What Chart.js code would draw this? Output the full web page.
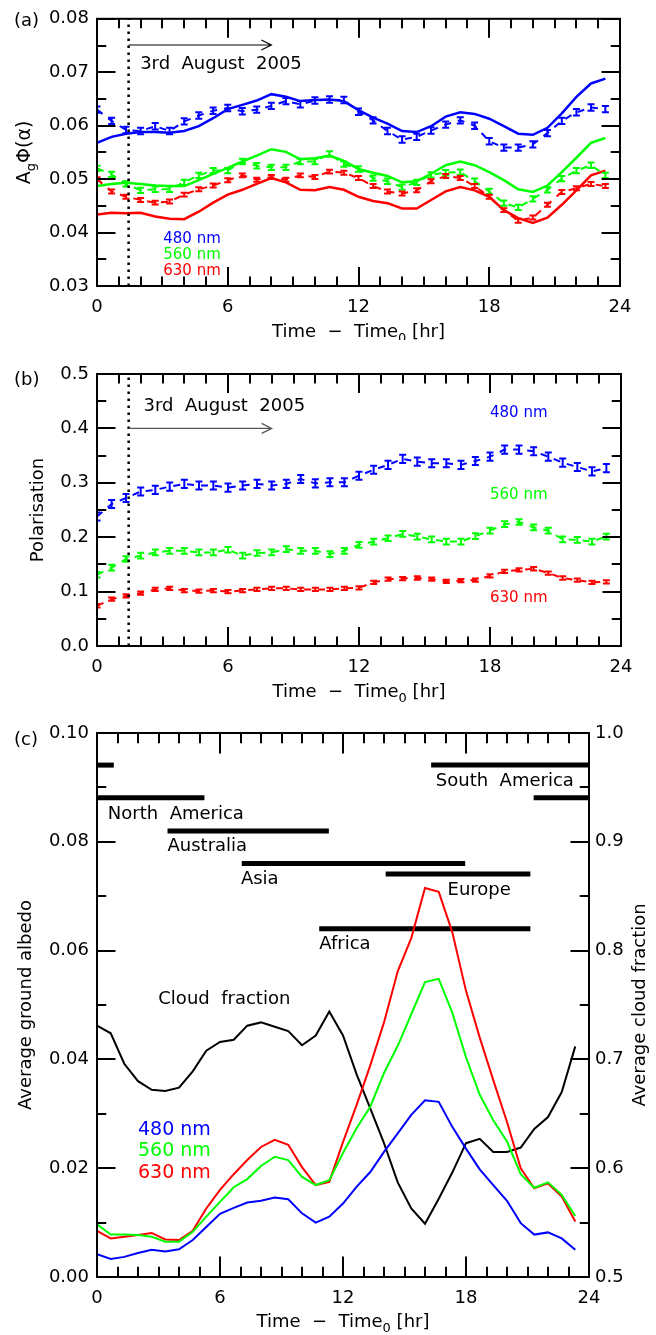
<!DOCTYPE html>
<html>
<head>
<meta charset="utf-8">
<script src="https://cdn.jsdelivr.net/npm/chart.js@4/dist/chart.umd.min.js"></script>
<style>
  body { margin: 0; background: #fff; width: 656px; height: 1335px; position: relative; overflow: hidden; }
  canvas { position: absolute; left: 0; }
</style>
</head>
<body>
<canvas id="chartA" width="656" height="340" style="top:0"></canvas>
<canvas id="chartB" width="656" height="370" style="top:340px"></canvas>
<canvas id="chartC" width="656" height="625" style="top:710px"></canvas>
<script>
// time grid (hours since Time0), same for all three panels
const hours = [0, 0.67, 1.33, 2, 2.67, 3.33, 4, 4.67, 5.33, 6, 6.67, 7.33, 8, 8.67, 9.33, 10, 10.67, 11.33,
  12, 12.67, 13.33, 14, 14.67, 15.33, 16, 16.67, 17.33, 18, 18.67, 19.33, 20, 20.67, 21.33, 22, 22.67, 23.33];

// (a) observed A_g*Phi(alpha) (with error bars) and model curves
const obsA480 = [0.0630, 0.0609, 0.0592, 0.0590, 0.0599, 0.0590, 0.0608, 0.0619, 0.0628, 0.0633, 0.0627, 0.0630, 0.0637, 0.0646, 0.0640, 0.0647, 0.0649, 0.0648,
  0.0626, 0.0610, 0.0590, 0.0574, 0.0579, 0.0591, 0.0602, 0.0610, 0.0600, 0.0571, 0.0559, 0.0559, 0.0565, 0.0586, 0.0609, 0.0625, 0.0634, 0.0631];
const obsA560 = [0.0520, 0.0509, 0.0491, 0.0479, 0.0481, 0.0481, 0.0494, 0.0507, 0.0516, 0.0516, 0.0533, 0.0525, 0.0522, 0.0522, 0.0533, 0.0533, 0.0547, 0.0528,
  0.0519, 0.0502, 0.0496, 0.0485, 0.0494, 0.0508, 0.0512, 0.0513, 0.0496, 0.0477, 0.0455, 0.0447, 0.0463, 0.0480, 0.0501, 0.0516, 0.0526, 0.0507];
const obsA630 = [0.0500, 0.0477, 0.0467, 0.0461, 0.0456, 0.0458, 0.0471, 0.0481, 0.0488, 0.0498, 0.0507, 0.0499, 0.0504, 0.0499, 0.0507, 0.0504, 0.0514, 0.0512,
  0.0502, 0.0487, 0.0477, 0.0473, 0.0479, 0.0496, 0.0506, 0.0502, 0.0487, 0.0467, 0.0442, 0.0422, 0.0428, 0.0452, 0.0476, 0.0483, 0.0491, 0.0487];
const modA480 = [0.0568, 0.0579, 0.0585, 0.0588, 0.0588, 0.0587, 0.0590, 0.0599, 0.0614, 0.0631, 0.0639, 0.0647, 0.0659, 0.0654, 0.0646, 0.0648, 0.0649, 0.0646,
  0.0629, 0.0615, 0.0604, 0.0590, 0.0588, 0.0599, 0.0617, 0.0625, 0.0622, 0.0613, 0.0599, 0.0585, 0.0583, 0.0596, 0.0623, 0.0654, 0.0679, 0.0688];
const modA560 = [0.0487, 0.0491, 0.0493, 0.0491, 0.0488, 0.0487, 0.0487, 0.0498, 0.0510, 0.0521, 0.0533, 0.0544, 0.0556, 0.0551, 0.0537, 0.0539, 0.0544, 0.0534,
  0.0519, 0.0512, 0.0506, 0.0494, 0.0496, 0.0510, 0.0526, 0.0533, 0.0526, 0.0513, 0.0498, 0.0481, 0.0476, 0.0488, 0.0513, 0.0540, 0.0568, 0.0577];
const modA630 = [0.0434, 0.0437, 0.0436, 0.0437, 0.0430, 0.0426, 0.0425, 0.0439, 0.0456, 0.0471, 0.0480, 0.0491, 0.0502, 0.0494, 0.0480, 0.0479, 0.0485, 0.0480,
  0.0467, 0.0459, 0.0455, 0.0445, 0.0445, 0.0461, 0.0477, 0.0485, 0.0479, 0.0467, 0.0442, 0.0427, 0.0418, 0.0428, 0.0452, 0.0479, 0.0507, 0.0516];
const errA = { b: 0.0006, g: 0.0005, r: 0.00037 };

// (b) polarisation
const polB480 = [0.238, 0.261, 0.272, 0.284, 0.287, 0.293, 0.298, 0.295, 0.295, 0.291, 0.295, 0.298, 0.295, 0.298, 0.307, 0.299, 0.301, 0.301,
  0.313, 0.324, 0.333, 0.344, 0.339, 0.336, 0.336, 0.333, 0.340, 0.348, 0.361, 0.361, 0.358, 0.348, 0.337, 0.329, 0.321, 0.327];
const polB560 = [0.131, 0.144, 0.160, 0.166, 0.172, 0.175, 0.175, 0.172, 0.172, 0.177, 0.166, 0.171, 0.172, 0.178, 0.175, 0.175, 0.169, 0.175,
  0.186, 0.192, 0.198, 0.206, 0.201, 0.196, 0.192, 0.192, 0.202, 0.212, 0.224, 0.228, 0.218, 0.212, 0.196, 0.195, 0.192, 0.201];
const polB630 = [0.074, 0.086, 0.092, 0.097, 0.104, 0.106, 0.102, 0.101, 0.102, 0.100, 0.102, 0.104, 0.106, 0.106, 0.104, 0.104, 0.104, 0.106,
  0.107, 0.117, 0.123, 0.124, 0.125, 0.123, 0.119, 0.120, 0.121, 0.129, 0.137, 0.140, 0.142, 0.134, 0.125, 0.121, 0.117, 0.118];
const errB = { b: 0.0075, g: 0.0052, r: 0.003 };

// (c) average ground albedo and cloud fraction
const gndC480 = [0.0042, 0.0033, 0.0037, 0.0044, 0.0050, 0.0047, 0.0051, 0.0068, 0.0092, 0.0116, 0.0127, 0.0137, 0.0140, 0.0146, 0.0143, 0.0117, 0.0100, 0.0111,
  0.0135, 0.0166, 0.0193, 0.0230, 0.0264, 0.0298, 0.0325, 0.0322, 0.0276, 0.0236, 0.0198, 0.0169, 0.0140, 0.0099, 0.0078, 0.0082, 0.0071, 0.0050];
const gndC560 = [0.0097, 0.0078, 0.0078, 0.0077, 0.0074, 0.0065, 0.0065, 0.0083, 0.0111, 0.0138, 0.0165, 0.0180, 0.0204, 0.0221, 0.0215, 0.0184, 0.0169, 0.0178,
  0.0228, 0.0274, 0.0313, 0.0375, 0.0425, 0.0483, 0.0542, 0.0548, 0.0486, 0.0404, 0.0335, 0.0288, 0.0249, 0.0189, 0.0164, 0.0174, 0.0151, 0.0112];
const gndC630 = [0.0085, 0.0071, 0.0074, 0.0077, 0.0081, 0.0069, 0.0068, 0.0085, 0.0126, 0.0160, 0.0189, 0.0215, 0.0239, 0.0252, 0.0243, 0.0202, 0.0169, 0.0175,
  0.0248, 0.0317, 0.0389, 0.0468, 0.0562, 0.0623, 0.0715, 0.0708, 0.0634, 0.0526, 0.0440, 0.0362, 0.0285, 0.0200, 0.0163, 0.0172, 0.0148, 0.0102];
const cloudC = [0.731, 0.724, 0.696, 0.680, 0.672, 0.671, 0.674, 0.689, 0.708, 0.716, 0.718, 0.731, 0.734, 0.730, 0.726, 0.713, 0.722, 0.744,
  0.722, 0.686, 0.655, 0.623, 0.587, 0.563, 0.549, 0.572, 0.596, 0.623, 0.627, 0.615, 0.615, 0.619, 0.636, 0.647, 0.670, 0.712];

// visibility bars of the continents (hours, left-axis level)
const barLevel = [0.0941, 0.0941, 0.0881, 0.0881, 0.0820, 0.0760, 0.0741, 0.0640];
const barStart = [0, 16.3, 0, 21.3, 3.44, 7.06, 14.08, 10.84];
const barEnd = [0.82, 24, 5.24, 24, 11.31, 17.96, 21.14, 21.14];

const BLUE = '#0000ff', GREEN = '#00ff00', RED = '#ff0000';
Chart.defaults.font.family = "'DejaVu Sans', sans-serif";
Chart.defaults.font.size = 18;
Chart.defaults.color = '#000';

const pts = vals => vals.map((v, i) => ({ x: hours[i], y: v }));

// draws text made of pieces, some of them subscripts
function drawParts(ctx, parts, size, cx, cy) {
  const sub = Math.round(size * 0.7);
  let w = 0;
  parts.forEach(p => { ctx.font = (p.sub ? sub : size) + "px 'DejaVu Sans'"; w += ctx.measureText(p.t).width; });
  let x = cx - w / 2;
  ctx.textAlign = 'left';
  ctx.textBaseline = 'middle';
  parts.forEach(p => {
    ctx.font = (p.sub ? sub : size) + "px 'DejaVu Sans'";
    ctx.fillText(p.t, x, p.sub ? cy + size * 0.35 : cy);
    x += ctx.measureText(p.t).width;
  });
}

const timeTitle = [{ t: 'Time  \u2212  Time' }, { t: '0', sub: true }, { t: ' [hr]' }];

// inward tick marks on all four sides, one stroke per tick
function tickMarks(ctx, a, xs, ys, cfg) {
  ctx.strokeStyle = '#000';
  ctx.lineWidth = 2;
  for (let h = 0; h <= 24; h++) {
    const px = Math.round(xs.getPixelForValue(h));
    const len = h % 6 === 0 ? cfg.xTick : cfg.xTick / 2;
    ctx.beginPath();
    ctx.moveTo(px, a.bottom); ctx.lineTo(px, a.bottom - len);
    ctx.moveTo(px, a.top); ctx.lineTo(px, a.top + len);
    ctx.stroke();
  }
  const nMinor = Math.round((ys.max - ys.min) / cfg.yMinor);
  for (let k = 0; k <= nMinor; k++) {
    const py = Math.round(ys.getPixelForValue(ys.min + k * cfg.yMinor));
    const len = k % 2 === 0 ? cfg.yTick : cfg.yTick / 2;
    ctx.beginPath();
    ctx.moveTo(a.left, py); ctx.lineTo(a.left + len, py);
    ctx.moveTo(a.right, py); ctx.lineTo(a.right - len, py);
    ctx.stroke();
  }
}

// box, error bars, texts and titles
function decor(cfg) {
  return {
    id: 'decor',
    afterDraw(chart) {
      const { ctx, chartArea: a, scales } = chart;
      const xs = scales.x, ys = scales.y;
      ctx.save();
      ctx.setLineDash([]);
      ctx.lineCap = 'butt';

      // error bars
      ctx.save();
      ctx.beginPath();
      ctx.rect(a.left, a.top, a.right - a.left, a.bottom - a.top);
      ctx.clip();
      chart.data.datasets.forEach((ds, di) => {
        if (!ds.errBar) return;
        const meta = chart.getDatasetMeta(di);
        ctx.strokeStyle = ds.borderColor;
        ctx.lineWidth = 2;
        ctx.beginPath();
        meta.data.forEach((el, i) => {
          const v = ds.data[i].y;
          const y1 = ys.getPixelForValue(v - ds.errBar), y2 = ys.getPixelForValue(v + ds.errBar);
          ctx.moveTo(el.x, y1); ctx.lineTo(el.x, y2);
          ctx.moveTo(el.x - 3.5, y1); ctx.lineTo(el.x + 3.5, y1);
          ctx.moveTo(el.x - 3.5, y2); ctx.lineTo(el.x + 3.5, y2);
        });
        ctx.stroke();
      });
      ctx.restore();

      // frame and ticks
      ctx.strokeStyle = '#000';
      ctx.lineWidth = 2;
      ctx.strokeRect(a.left, a.top, a.right - a.left, a.bottom - a.top);
      tickMarks(ctx, a, xs, ys, cfg);

      // dotted start line and arrow
      if (cfg.dotAt !== undefined) {
        const px = xs.getPixelForValue(cfg.dotAt);
        ctx.save();
        ctx.setLineDash([2.5, 4.5]);
        ctx.lineWidth = 2.5;
        ctx.beginPath();
        ctx.moveTo(px, a.bottom); ctx.lineTo(px, a.top);
        ctx.stroke();
        ctx.restore();
      }
      if (cfg.arrow) {
        const x1 = xs.getPixelForValue(cfg.arrow.from), x2 = xs.getPixelForValue(cfg.arrow.to);
        const py = ys.getPixelForValue(cfg.arrow.y);
        ctx.strokeStyle = cfg.arrow.color;
        ctx.lineWidth = 1.2;
        ctx.beginPath();
        ctx.moveTo(x1, py); ctx.lineTo(x2, py);
        ctx.moveTo(x2 - 10, py - 5); ctx.lineTo(x2, py); ctx.lineTo(x2 - 10, py + 5);
        ctx.stroke();
      }

      // in-plot notes
      ctx.textAlign = 'left';
      ctx.textBaseline = 'middle';
      (cfg.notes || []).forEach(n => {
        ctx.fillStyle = n.color || '#000';
        ctx.font = (n.size || 18) + "px 'DejaVu Sans'";
        ctx.fillText(n.text, xs.getPixelForValue(n.x), ys.getPixelForValue(n.y));
      });

      // panel letter and axis titles
      ctx.fillStyle = '#000';
      ctx.font = "18px 'DejaVu Sans'";
      ctx.fillText(cfg.panel, 14, cfg.panelY);
      drawParts(ctx, timeTitle, 18, (a.left + a.right) / 2, a.bottom + cfg.xTitleGap);
      const midY = (a.top + a.bottom) / 2;
      ctx.save();
      ctx.translate(cfg.yTitleX, midY);
      ctx.rotate(-Math.PI / 2);
      drawParts(ctx, cfg.yTitle, cfg.yTitleSize || 18, 0, 0);
      ctx.restore();
      if (cfg.rightTitle) {
        ctx.save();
        ctx.translate(cfg.rightTitleX, midY);
        ctx.rotate(-Math.PI / 2);
        drawParts(ctx, cfg.rightTitle, 18, 0, 0);
        ctx.restore();
      }
      ctx.restore();
    }
  };
}

function xScale(h) {
  return {
    type: 'linear', min: 0, max: 24,
    afterFit: s => { s.height = h; },
    grid: { display: false, drawTicks: false }, border: { display: false },
    ticks: { stepSize: 6, padding: 11, maxRotation: 0, autoSkip: false }
  };
}
function yScale(min, max, step, digits, pos, w, pad) {
  return {
    type: 'linear', position: pos, min: min, max: max,
    afterFit: s => { s.width = w; },
    grid: { display: false, drawTicks: false }, border: { display: false },
    ticks: { stepSize: step, padding: pad, callback: v => v.toFixed(digits) }
  };
}
const baseOpts = { responsive: false, animation: false, events: [], plugins: { legend: { display: false }, tooltip: { enabled: false } } };

function modelLine(vals, color) {
  return { data: pts(vals), borderColor: color, borderWidth: 2.5, pointRadius: 0, tension: 0 };
}
function obsLine(vals, color, err) {
  return { data: pts(vals), borderColor: color, borderWidth: 2, borderDash: [7, 7], pointRadius: 0, tension: 0, errBar: err };
}

// ---------- (a) ----------
new Chart(document.getElementById('chartA'), {
  type: 'line',
  data: { datasets: [
    obsLine(obsA480, BLUE, errA.b), obsLine(obsA560, GREEN, errA.g), obsLine(obsA630, RED, errA.r),
    modelLine(modA480, BLUE), modelLine(modA560, GREEN), modelLine(modA630, RED)
  ] },
  options: Object.assign({}, baseOpts, {
    layout: { padding: { top: 14, right: 36, left: 0, bottom: 0 } },
    scales: { x: xScale(54), y: yScale(0.03, 0.08, 0.01, 2, 'left', 97, 8) }
  }),
  plugins: [decor({
    panel: '(a)', panelY: 21, xTick: 19, yTick: 18.5, yMinor: 0.005, xTitleGap: 46, yTitleX: 25, yTitleSize: 19,
    yTitle: [{ t: 'A' }, { t: 'g', sub: true }, { t: '\u03A6(\u03B1)' }],
    dotAt: 1.45, arrow: { from: 1.45, to: 8, y: 0.0751, color: '#000' },
    notes: [
      { text: '3rd  August  2005', x: 1.98, y: 0.0715 },
      { text: '480 nm', x: 3.04, y: 0.0388, color: BLUE, size: 15 },
      { text: '560 nm', x: 3.04, y: 0.0358, color: GREEN, size: 15 },
      { text: '630 nm', x: 3.04, y: 0.0328, color: RED, size: 15 }
    ]
  })]
});

// ---------- (b) ----------
new Chart(document.getElementById('chartB'), {
  type: 'line',
  data: { datasets: [
    obsLine(polB480, BLUE, errB.b), obsLine(polB560, GREEN, errB.g), obsLine(polB630, RED, errB.r)
  ] },
  options: Object.assign({}, baseOpts, {
    layout: { padding: { top: 34, right: 35, left: 0, bottom: 0 } },
    scales: { x: xScale(64), y: yScale(0, 0.5, 0.1, 1, 'left', 97, 8) }
  }),
  plugins: [decor({
    panel: '(b)', panelY: 40, xTick: 19, yTick: 18.5, yMinor: 0.05, xTitleGap: 46, yTitleX: 38,
    yTitle: [{ t: 'Polarisation' }],
    dotAt: 1.45, arrow: { from: 1.45, to: 8, y: 0.40, color: '#555' },
    notes: [
      { text: '3rd  August  2005', x: 2.13, y: 0.44 },
      { text: '480 nm', x: 18.0, y: 0.428, color: BLUE, size: 15 },
      { text: '560 nm', x: 18.0, y: 0.278, color: GREEN, size: 15 },
      { text: '630 nm', x: 18.0, y: 0.0877, color: RED, size: 15 }
    ]
  })]
});

// ---------- (c) ----------
const barSets = barLevel.map((lv, i) => ({
  data: [{ x: barStart[i], y: lv }, { x: barEnd[i], y: lv }],
  borderColor: '#000', borderWidth: 5, borderCapStyle: 'butt', pointRadius: 0, yAxisID: 'y'
}));
new Chart(document.getElementById('chartC'), {
  type: 'line',
  data: { datasets: [
    { data: pts(gndC480), borderColor: BLUE, borderWidth: 2, pointRadius: 0, yAxisID: 'y' },
    { data: pts(gndC560), borderColor: GREEN, borderWidth: 2, pointRadius: 0, yAxisID: 'y' },
    { data: pts(gndC630), borderColor: RED, borderWidth: 2, pointRadius: 0, yAxisID: 'y' },
    { data: pts(cloudC), borderColor: '#000', borderWidth: 2, pointRadius: 0, yAxisID: 'y1' }
  ].concat(barSets) },
  options: Object.assign({}, baseOpts, {
    layout: { padding: { top: 23, right: 0, left: 0, bottom: 0 } },
    scales: {
      x: xScale(58),
      y: yScale(0, 0.1, 0.02, 2, 'left', 97, 8),
      y1: yScale(0.5, 1.0, 0.1, 1, 'right', 67, 6)
    }
  }),
  plugins: [decor({
    panel: '(c)', panelY: 30, xTick: 20.5, yTick: 18.5, yMinor: 0.01, xTitleGap: 45, yTitleX: 26,
    yTitle: [{ t: 'Average ground albedo' }],
    rightTitleX: 640, rightTitle: [{ t: 'Average cloud fraction' }],
    notes: [
      { text: 'South  America', x: 16.53, y: 0.0912 },
      { text: 'North  America', x: 0.53, y: 0.0850 },
      { text: 'Australia', x: 3.44, y: 0.0791 },
      { text: 'Asia', x: 7.02, y: 0.0731 },
      { text: 'Europe', x: 17.1, y: 0.0710 },
      { text: 'Africa', x: 10.84, y: 0.0611 },
      { text: 'Cloud  fraction', x: 2.99, y: 0.0510 },
      { text: '480 nm', x: 2.0, y: 0.0270, color: BLUE, size: 19 },
      { text: '560 nm', x: 2.0, y: 0.0231, color: GREEN, size: 19 },
      { text: '630 nm', x: 2.0, y: 0.0191, color: RED, size: 19 }
    ]
  })]
});
</script>
</body>
</html>
